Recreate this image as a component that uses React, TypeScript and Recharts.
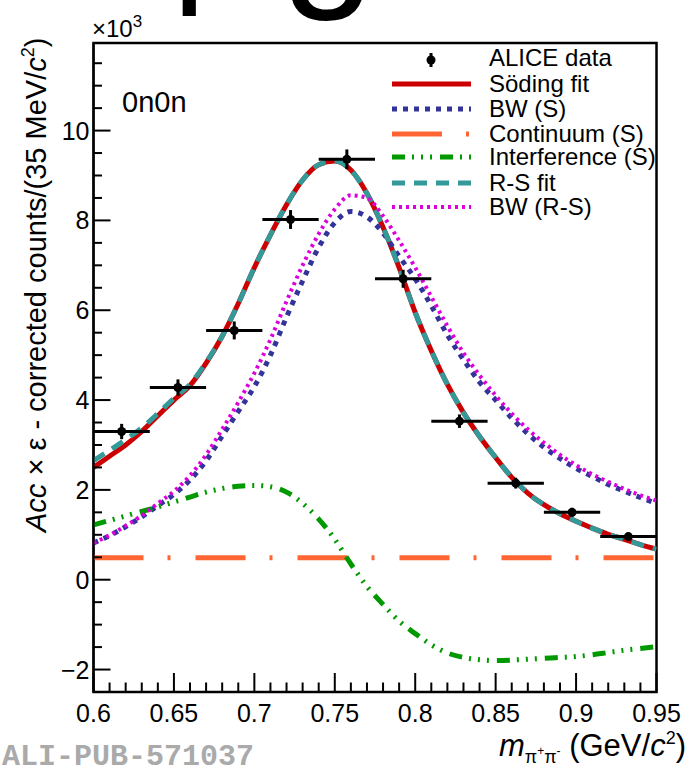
import React from 'react';
import { ComposedChart, Line, Scatter, ErrorBar, XAxis, YAxis, ReferenceArea } from 'recharts';

// ---- curve grid (GeV/c^2) ----
const massGrid = [0.60, 0.61, 0.62, 0.63, 0.64, 0.65, 0.66, 0.67, 0.68, 0.69, 0.70, 0.71, 0.72, 0.73, 0.74, 0.75, 0.76, 0.77, 0.78, 0.79, 0.80, 0.81, 0.82, 0.83, 0.84, 0.85, 0.86, 0.87, 0.88, 0.89, 0.90, 0.91, 0.92, 0.93, 0.94, 0.95];

// values in units of 10^3
const sodingFit = [2.5, 2.75, 3.0, 3.3, 3.65, 4.0, 4.32, 4.82, 5.42, 6.15, 6.95, 7.68, 8.35, 8.9, 9.24, 9.32, 9.12, 8.6, 7.85, 6.95, 5.95, 5.1, 4.35, 3.72, 3.19, 2.72, 2.28, 1.93, 1.67, 1.47, 1.3, 1.15, 1.01, 0.9, 0.78, 0.68];
const bwS = [0.82, 0.98, 1.18, 1.4, 1.65, 1.9, 2.22, 2.65, 3.2, 3.75, 4.3, 5.0, 5.85, 6.65, 7.4, 7.95, 8.2, 8.08, 7.72, 7.2, 6.7, 6.1, 5.45, 4.9, 4.4, 4.0, 3.6, 3.25, 2.95, 2.7, 2.48, 2.3, 2.12, 1.97, 1.83, 1.7];
const continuumS = [0.49, 0.49, 0.49, 0.49, 0.49, 0.49, 0.49, 0.49, 0.49, 0.49, 0.49, 0.49, 0.49, 0.49, 0.49, 0.49, 0.49, 0.49, 0.49, 0.49, 0.49, 0.49, 0.49, 0.49, 0.49, 0.49, 0.49, 0.49, 0.49, 0.49, 0.49, 0.49, 0.49, 0.49, 0.49, 0.49];
const interferenceS = [1.22, 1.32, 1.42, 1.52, 1.62, 1.73, 1.84, 1.95, 2.03, 2.08, 2.1, 2.07, 1.95, 1.7, 1.35, 0.9, 0.35, -0.15, -0.55, -0.92, -1.2, -1.45, -1.63, -1.73, -1.78, -1.8, -1.79, -1.77, -1.75, -1.73, -1.71, -1.67, -1.62, -1.57, -1.53, -1.49];
const rsFit = [2.65, 2.88, 3.12, 3.38, 3.7, 4.04, 4.35, 4.84, 5.42, 6.15, 6.95, 7.68, 8.35, 8.9, 9.24, 9.32, 9.12, 8.6, 7.85, 6.95, 5.95, 5.1, 4.35, 3.72, 3.19, 2.72, 2.28, 1.93, 1.67, 1.47, 1.3, 1.15, 1.01, 0.9, 0.78, 0.68];
const bwRS = [0.82, 0.99, 1.2, 1.43, 1.7, 1.97, 2.32, 2.78, 3.35, 3.95, 4.6, 5.35, 6.2, 7.0, 7.7, 8.25, 8.56, 8.5, 8.1, 7.55, 6.95, 6.3, 5.65, 5.05, 4.55, 4.1, 3.7, 3.35, 3.05, 2.78, 2.55, 2.35, 2.18, 2.02, 1.88, 1.76];

// ---- ALICE data ----
const dataMass = [0.6175, 0.6525, 0.6875, 0.7225, 0.7575, 0.7925, 0.8275, 0.8625, 0.8975, 0.9325];
const dataValue = [3.30, 4.28, 5.55, 8.02, 9.36, 6.70, 3.53, 2.15, 1.50, 0.96];
const dataError = [0.17, 0.18, 0.2, 0.21, 0.22, 0.2, 0.15, 0.12, 0.1, 0.08];
const binHalfWidth = [0.0175, 0.0175, 0.0175, 0.0175, 0.0175, 0.0175, 0.0175, 0.0175, 0.0175, 0.0175];

// ---- ticks ----
const xMajorTicks = [0.6, 0.65, 0.7, 0.75, 0.8, 0.85, 0.9, 0.95];
const yMajorTicks = [-2, 0, 2, 4, 6, 8, 10];
const xTicks = Array.from({ length: 36 }, (_, i) => Math.round((0.6 + i * 0.01) * 1000) / 1000);
const yTicks = Array.from({ length: 28 }, (_, i) => -2 + i * 0.5);

const curveRows = massGrid.map((m, i) => ({
  m,
  soding: sodingFit[i],
  bwS: bwS[i],
  cont: continuumS[i],
  interf: interferenceS[i],
  rs: rsFit[i],
  bwRS: bwRS[i],
}));

const pointRows = dataMass.map((m, i) => ({ m, v: dataValue[i], ex: binHalfWidth[i], ey: dataError[i] }));

const FONT = "'Liberation Sans', Arial, Helvetica, sans-serif";

const isMajorX = (v: number) => xMajorTicks.some((t) => Math.abs(t - v) < 1e-6);
const isMajorY = (v: number) => yMajorTicks.some((t) => Math.abs(t - v) < 1e-6);

const XTick = (props: any) => {
  const { x, y, payload } = props;
  const v = payload.value;
  const major = isMajorX(v);
  return (
    <g>
      <line x1={x} x2={x} y1={y} y2={y - (major ? 19 : 9.5)} stroke="#000" strokeWidth={2} />
      {major && (
        <text x={x} y={y + 30} textAnchor="middle" fontSize={25} fontFamily={FONT} fill="#000">
          {String(v)}
        </text>
      )}
    </g>
  );
};

const YTick = (props: any) => {
  const { x, y, payload } = props;
  const v = payload.value;
  const major = isMajorY(v);
  return (
    <g>
      <line x1={x} x2={x + (major ? 17 : 8.5)} y1={y} y2={y} stroke="#000" strokeWidth={2} />
      {major && (
        <text x={x - 4} y={y + 9} textAnchor="end" fontSize={25} fontFamily={FONT} fill="#000">
          {v < 0 ? '\u2212' + String(-v) : String(v)}
        </text>
      )}
    </g>
  );
};

const COLORS = {
  soding: '#cc0000',
  bwS: '#333399',
  cont: '#ff6633',
  interf: '#009900',
  rs: '#339999',
  bwRS: '#dd00dd',
};

const DASH = {
  bwS: '5 6',
  cont: '50 24 3 25',
  interf: '13 7 2 7 2 7 2 8',
  rs: '13 9',
  bwRS: '3 4',
};

const legendRows = [
  { key: 'soding', label: 'Söding fit', y: 84, width: 5 },
  { key: 'bwS', label: 'BW (S)', y: 109, width: 5 },
  { key: 'cont', label: 'Continuum (S)', y: 134, width: 5 },
  { key: 'interf', label: 'Interference (S)', y: 157, width: 5 },
  { key: 'rs', label: 'R-S fit', y: 183, width: 5 },
  { key: 'bwRS', label: 'BW (R-S)', y: 207, width: 4 },
];

const Overlay = () => (
  <svg width={689} height={768} style={{ position: 'absolute', left: 0, top: 0, pointerEvents: 'none' }}>
    {/* partially visible title */}
    <text x={173} y={-15} fontSize={150} fontFamily={FONT} fill="#000">ρ</text>
    <text x={281} y={-14} fontSize={170} fontFamily={FONT} fill="#000">g</text>
    {/* exponent */}
    <text x={92} y={37} fontSize={24} fontFamily={FONT} fill="#000">
      ×10<tspan fontSize={17} dy={-10}>3</tspan>
    </text>
    <text x={122} y={112} fontSize={29} fontFamily={FONT} fill="#000">0n0n</text>
    {/* legend */}
    <line x1={431} x2={431} y1={53} y2={67} stroke="#000" strokeWidth={3} />
    <circle cx={431} cy={60} r={4.5} fill="#000" />
    <text x={489} y={66} fontSize={24} fontFamily={FONT} fill="#000">ALICE data</text>
    {legendRows.map((r) => (
      <g key={r.key}>
        <line
          x1={392}
          x2={471}
          y1={r.y}
          y2={r.y}
          stroke={(COLORS as any)[r.key]}
          strokeWidth={r.width}
          strokeDasharray={(DASH as any)[r.key]}
        />
        <text x={489} y={r.y + 7.5} fontSize={24} fontFamily={FONT} fill="#000">{r.label}</text>
      </g>
    ))}
    {/* y title */}
    <text transform="translate(46,532) rotate(-90)" fontSize={29} fontFamily={FONT} fill="#000">
      <tspan fontStyle="italic">Acc</tspan> × ε - corrected counts/(35 MeV/<tspan fontStyle="italic">c</tspan>
      <tspan fontSize={18} dy={-12}>2</tspan>
      <tspan dy={12}>)</tspan>
    </text>
    {/* x title */}
    <text x={686} y={756} textAnchor="end" fontSize={31} fontFamily={FONT} fill="#000">
      <tspan fontStyle="italic">m</tspan>
      <tspan fontSize={18} dy={7}>π</tspan>
      <tspan fontSize={12} dy={-8}>+</tspan>
      <tspan fontSize={18} dy={8}>π</tspan>
      <tspan fontSize={12} dy={-8}>-</tspan>
      <tspan dy={1}> (GeV/</tspan>
      <tspan fontStyle="italic">c</tspan>
      <tspan fontSize={18} dy={-12}>2</tspan>
      <tspan dy={12}>)</tspan>
    </text>
    {/* watermark */}
    <text x={2} y={765} fontSize={30} fontWeight="bold" fontFamily="'Liberation Mono', 'Courier New', monospace" fill="#aaaaaa">
      ALI-PUB-571037
    </text>
  </svg>
);

export default function App() {
  return (
    <div style={{ position: 'absolute', left: 0, top: 0, width: 689, height: 768, background: '#fff', overflow: 'hidden' }}>
      <ComposedChart
        width={689}
        height={768}
        data={curveRows}
        margin={{ top: 43, right: 32.5, bottom: 0, left: 0 }}
      >
        <XAxis
          dataKey="m"
          type="number"
          domain={[0.6, 0.95]}
          ticks={xTicks}
          allowDataOverflow
          height={76}
          tickSize={0}
          tickMargin={0}
          tickLine={false}
          axisLine={{ stroke: '#000', strokeWidth: 2 }}
          tick={<XTick />}
          interval={0}
        />
        <YAxis
          type="number"
          domain={[-2.5, 11.95]}
          ticks={yTicks}
          allowDataOverflow
          width={93.5}
          tickSize={0}
          tickMargin={0}
          tickLine={false}
          axisLine={{ stroke: '#000', strokeWidth: 2 }}
          tick={<YTick />}
          interval={0}
        />
        <Line type="monotone" dataKey="soding" stroke={COLORS.soding} strokeWidth={5} dot={false} isAnimationActive={false} />
        <Line type="monotone" dataKey="bwS" stroke={COLORS.bwS} strokeWidth={5} strokeDasharray={DASH.bwS} dot={false} isAnimationActive={false} />
        <Line type="monotone" dataKey="cont" stroke={COLORS.cont} strokeWidth={5} strokeDasharray={DASH.cont} dot={false} isAnimationActive={false} />
        <Line type="monotone" dataKey="interf" stroke={COLORS.interf} strokeWidth={5} strokeDasharray={DASH.interf} dot={false} isAnimationActive={false} />
        <Line type="monotone" dataKey="rs" stroke={COLORS.rs} strokeWidth={5} strokeDasharray={DASH.rs} dot={false} isAnimationActive={false} />
        <Line type="monotone" dataKey="bwRS" stroke={COLORS.bwRS} strokeWidth={4} strokeDasharray={DASH.bwRS} dot={false} isAnimationActive={false} />
        <Scatter
          data={pointRows}
          dataKey="v"
          isAnimationActive={false}
          shape={(p: any) => <circle cx={p.cx} cy={p.cy} r={4.5} fill="#000" />}
        >
          <ErrorBar dataKey="ey" direction="y" width={0} stroke="#000" strokeWidth={3} isAnimationActive={false} />
          <ErrorBar dataKey="ex" direction="x" width={0} stroke="#000" strokeWidth={3} isAnimationActive={false} />
        </Scatter>
        <ReferenceArea x1={0.6} x2={0.95} y1={-2.5} y2={11.95} fill="none" stroke="#000" strokeWidth={2.5} ifOverflow="visible" />
      </ComposedChart>
      <Overlay />
    </div>
  );
}
